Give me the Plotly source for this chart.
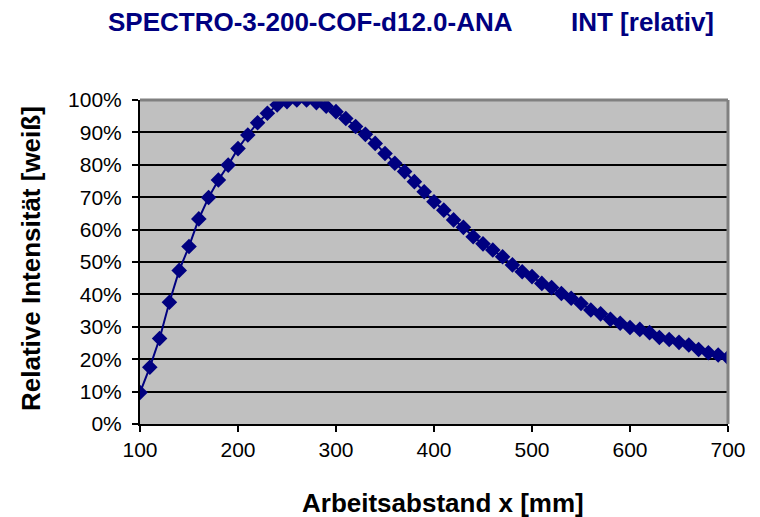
import plotly.graph_objects as go

x_mm = list(range(100, 701, 10))
intensity = [
    9.7, 17.5, 26.4, 37.6, 47.4, 54.8, 63.3, 69.9, 75.3, 79.9,
    85.0, 89.2, 93.0, 95.9, 98.5, 99.5, 100.0, 100.0, 99.2, 98.1,
    96.4, 94.3, 91.8, 89.4, 86.6, 83.5, 80.5, 77.9, 74.8, 71.7,
    68.6, 66.0, 63.0, 60.7, 57.8, 55.6, 53.7, 51.6, 49.1, 47.0,
    45.5, 43.4, 42.1, 40.3, 38.8, 37.2, 35.2, 34.0, 32.3, 31.1,
    29.8, 29.2, 28.2, 26.7, 26.1, 25.2, 24.4, 23.0, 22.0, 21.3,
    20.5,
]
y_vals = [v / 100 for v in intensity]

title_left = "SPECTRO-3-200-COF-d12.0-ANA"
title_right = "INT [relativ]"
x_title = "Arbeitsabstand x [mm]"
y_title = "Relative Intensität [weiß]"

navy = "#000080"
font_family = "Liberation Sans, Arial, sans-serif"

fig = go.Figure()
fig.add_trace(go.Scatter(
    x=x_mm, y=y_vals, mode="lines+markers",
    line=dict(color=navy, width=2),
    marker=dict(symbol="diamond", size=12, color=navy),
    showlegend=False,
))

fig.update_layout(
    width=760, height=517,
    margin=dict(l=132, r=40, t=92, b=101),
    paper_bgcolor="white",
    plot_bgcolor="#C0C0C0",
    font=dict(family=font_family, size=21, color="black"),
    xaxis=dict(
        range=[100, 700], tickmode="linear", tick0=100, dtick=100,
        showgrid=False, zeroline=False,
        showline=True, linecolor="black", linewidth=2,
        ticks="outside", ticklen=6, tickwidth=1.5, tickcolor="black",
        tickfont=dict(size=21),
    ),
    yaxis=dict(
        range=[0, 1], tickmode="linear", tick0=0, dtick=0.1,
        tickformat=".0%",
        showgrid=True, gridcolor="black", gridwidth=1.5,
        zeroline=False,
        showline=True, linecolor="black", linewidth=2,
        ticks="outside", ticklen=6, tickwidth=1.5, tickcolor="black",
        tickfont=dict(size=21),
        ticklabelstandoff=6,
    ),
    shapes=[
        dict(type="line", xref="paper", yref="paper", x0=0, x1=1, y0=1, y1=1,
             line=dict(color="#808080", width=3)),
        dict(type="line", xref="paper", yref="paper", x0=1, x1=1, y0=0, y1=1,
             line=dict(color="#808080", width=3)),
    ],
    annotations=[
        dict(text="<b>" + title_left + "</b>", xref="paper", yref="paper",
             x=(310 - 140) / 588, y=1 + (100 - 22) / 324, xanchor="center", yanchor="middle",
             showarrow=False, font=dict(size=26, color=navy)),
        dict(text="<b>" + title_right + "</b>", xref="paper", yref="paper",
             x=(642 - 140) / 588, y=1 + (100 - 22) / 324, xanchor="center", yanchor="middle",
             showarrow=False, font=dict(size=26, color=navy)),
        dict(text="<b>" + x_title + "</b>", xref="paper", yref="paper",
             x=(443 - 140) / 588, y=(424 - 503) / 324, xanchor="center", yanchor="middle",
             showarrow=False, font=dict(size=26, color="black")),
        dict(text="<b>" + y_title + "</b>", xref="paper", yref="paper",
             x=(31 - 140) / 588, y=(424 - 259) / 324, xanchor="center", yanchor="middle",
             textangle=-90, showarrow=False, font=dict(size=26, color="black")),
    ],
)

fig.write_html("out.html")
